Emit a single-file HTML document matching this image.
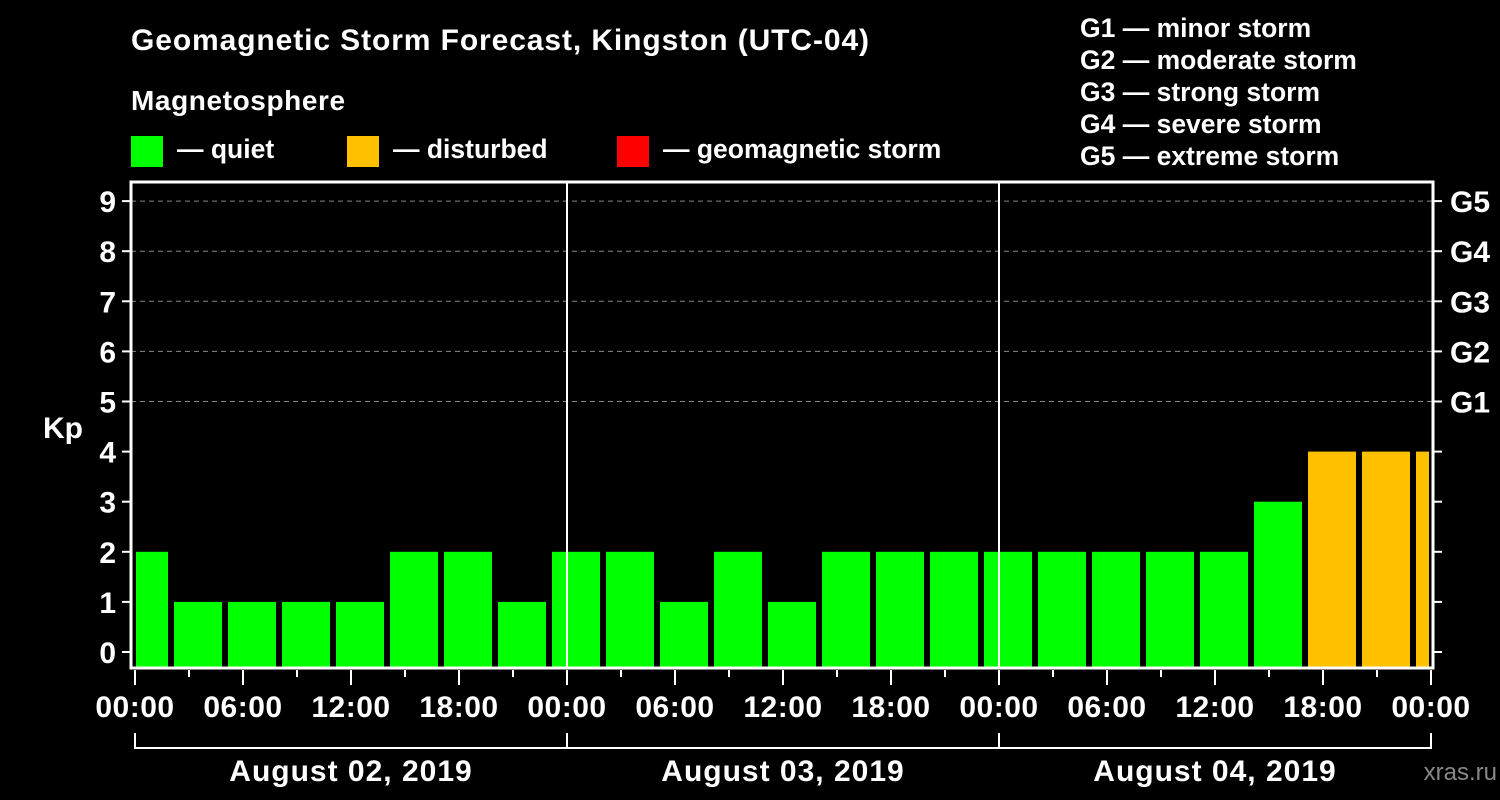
<!DOCTYPE html>
<html><head><meta charset="utf-8"><style>
html,body{margin:0;padding:0;background:#000;}
svg{display:block;font-family:"Liberation Sans",Arial,sans-serif;font-weight:bold;}
</style></head><body>
<svg id="chart" width="1500" height="800" viewBox="0 0 1500 800">
<rect x="0" y="0" width="1500" height="800" fill="#000"/>
<text x="131" y="50" fill="#fff" font-size="30" letter-spacing="0.9">Geomagnetic Storm Forecast, Kingston (UTC-04)</text>
<text x="131" y="110" fill="#fff" font-size="28" letter-spacing="0.6">Magnetosphere</text>
<g><rect x="131" y="136" width="32" height="31" fill="#00ff00"/><text x="177" y="158" fill="#fff" font-size="26.5">— quiet</text></g>
<g><rect x="347" y="136" width="32" height="31" fill="#ffc000"/><text x="393" y="158" fill="#fff" font-size="26.5">— disturbed</text></g>
<g><rect x="617" y="136" width="32" height="31" fill="#ff0000"/><text x="663" y="158" fill="#fff" font-size="26.5">— geomagnetic storm</text></g>
<g fill="#fff" font-size="26.5">
<text x="1080" y="37">G1 — minor storm</text>
<text x="1080" y="69">G2 — moderate storm</text>
<text x="1080" y="101">G3 — strong storm</text>
<text x="1080" y="133">G4 — severe storm</text>
<text x="1080" y="165">G5 — extreme storm</text>
</g>
<text x="63" y="438" fill="#fff" font-size="30" text-anchor="middle">Kp</text>
<text x="1497" y="780" fill="#888" font-size="24" text-anchor="end" font-weight="normal">xras.ru</text>
<g id="grid"></g><g id="bars"></g><g id="axes"></g>
</svg>
<script>
const kpValues = [2,1,1,1,1,2,2,1,2,2,1,2,1,2,2,2,2,2,2,2,2,3,4,4,4];
const dateLabels = ["August 02, 2019","August 03, 2019","August 04, 2019"];
const timeLabels = ["00:00","06:00","12:00","18:00"];
const gLabels = ["G1","G2","G3","G4","G5"];
const startOffsetHours = -1;
const binHours = 3;
const totalHours = 72;

const NS="http://www.w3.org/2000/svg";
const X0=135, X1=1431, Y0=652, PXK=50.1;
const xs = h => X0 + (h/totalHours)*(X1-X0);
const ys = k => Y0 - k*PXK;
function mk(tag, attrs, parent){const e=document.createElementNS(NS,tag);for(const k in attrs)e.setAttribute(k,attrs[k]);parent.appendChild(e);return e;}
const grid=document.getElementById('grid'), bars=document.getElementById('bars'), axes=document.getElementById('axes');

gLabels.forEach((g,i)=>{
  const y=ys(5+i);
  const l=mk('line',{x1:131,x2:1433,y1:y,y2:y,stroke:'#888','stroke-dasharray':'5,4','stroke-width':1},grid);
  
  
  const t=mk('text',{x:1450,y:y+11,fill:'#fff','font-size':30},axes);
  t.textContent=g;
  
  
});

kpValues.forEach((v,i)=>{
  let h0=startOffsetHours+i*binHours, h1=h0+binHours;
  let a=xs(h0)+3, b=xs(h1)-3;
  if(h0<0) a=xs(0)+1;
  if(h1>totalHours) b=xs(totalHours)-2;
  const col = v>=5?'#ff0000':(v>=4?'#ffc000':'#00ff00');
  const r=mk('rect',{x:a,y:ys(v),width:b-a,height:668-ys(v),fill:col},bars);
  
  
});

for(let d=1;d<3;d++){
  const l=mk('line',{x1:xs(d*24),x2:xs(d*24),y1:182,y2:668,stroke:'#fff','stroke-width':2},axes);
  
  
}
const f=mk('path',{d:'M131,182 H1433 V668 H131 Z',fill:'none',stroke:'#fff','stroke-width':3},axes);



for(let k=0;k<=9;k++){
  const y=ys(k);
  mk('line',{x1:122,x2:131,y1:y,y2:y,stroke:'#fff','stroke-width':2},axes);
  mk('line',{x1:1433,x2:1442,y1:y,y2:y,stroke:'#fff','stroke-width':2},axes);
  const t=mk('text',{x:116,y:y+11,fill:'#fff','font-size':30,'text-anchor':'end'},axes);
  t.textContent=k;
  
  
}
for(let h=0;h<=totalHours;h+=3){
  const x=xs(h), major=h%6===0;
  mk('line',{x1:x,x2:x,y1:670,y2:major?685:677,stroke:'#fff','stroke-width':2},axes);
  if(major){
    const t=mk('text',{x:x,y:717,fill:'#fff','font-size':30,'letter-spacing':0.5,'text-anchor':'middle'},axes);
    t.textContent=timeLabels[(h/6)%4];
    
    
  }
}
mk('line',{x1:xs(0),x2:xs(totalHours),y1:748,y2:748,stroke:'#fff','stroke-width':2},axes);
for(let d=0;d<=3;d++) mk('line',{x1:xs(d*24),x2:xs(d*24),y1:733,y2:749,stroke:'#fff','stroke-width':2},axes);
dateLabels.forEach((s,d)=>{
  const t=mk('text',{x:xs(d*24+12),y:781,fill:'#fff','font-size':30,'letter-spacing':1,'text-anchor':'middle'},axes);
  t.textContent=s;
  
  
});
</script>
</body></html>
